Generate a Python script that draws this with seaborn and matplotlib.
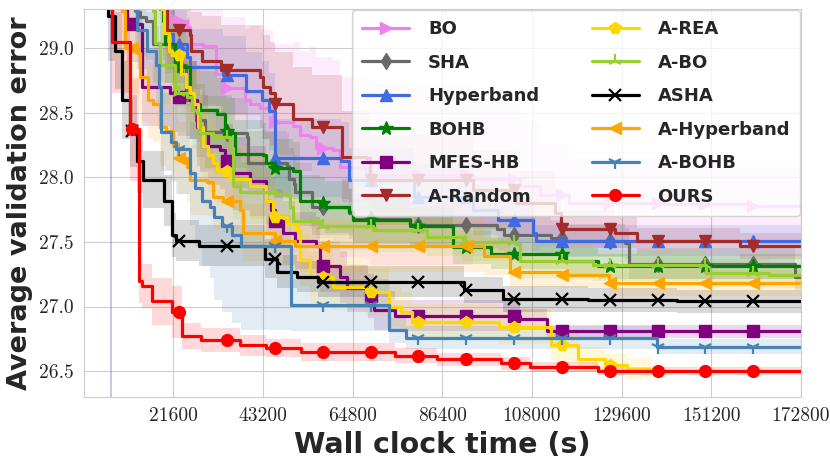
import numpy as np
import matplotlib
matplotlib.use("Agg")
import matplotlib.pyplot as plt
from matplotlib.lines import Line2D
import seaborn as sns

# --- style ---
sns.set_style("whitegrid")
plt.rcParams["font.family"] = ["DejaVu Sans"]

# --- data: step breakpoints, time in kilo-seconds, mean error and std ---
bo_t = [0, 6.2, 6.8, 19.0, 20.6, 24.8, 25.6, 28.8, 31.8, 33.5, 38.8, 40.0, 42.4, 45.5, 50.5, 52.0,
        54.5, 56.0, 60.0, 61.7, 68.1, 68.9, 93.8, 105.0, 110.0, 117.0, 140.0, 160.0]
bo_v = [30.0, 30.0, 30.0, 29.29, 29.21, 29.16, 29.03, 29.02, 28.80, 28.69, 28.60, 28.57, 28.54, 28.43,
        28.40, 28.33, 28.31, 28.23, 28.21, 28.08, 28.07, 28.02, 27.99, 27.93, 27.86, 27.80, 27.79, 27.78]
bo_s = [0, 4.0, 0, 0.35, 0.35, 0.4, 0.4, 0.45, 0.5, 0.55, 0.55, 0.6, 0.6, 0.6, 0.65, 0.65,
        0.7, 0.7, 0.7, 0.7, 0.7, 0.7, 0.6, 0.5, 0.4, 0.35, 0.3, 0.3]

sha_t = [0, 6.2, 6.8, 12.7, 13.5, 15.1, 16.7, 20.9, 22.0, 24.5, 27.0, 29.3, 34.5, 39.3, 39.5, 49.0,
         49.4, 50.6, 51.0, 55.0, 64.0, 64.8, 78.5, 99.5, 101.2, 112.5, 115.5, 130.5, 131.3, 171.3]
sha_v = [30.0, 30.0, 30.0, 29.28, 29.24, 29.21, 29.03, 29.01, 28.87, 28.60, 28.44, 28.35, 28.34, 28.31,
         28.11, 28.09, 27.99, 27.95, 27.89, 27.77, 27.72, 27.68, 27.63, 27.60, 27.55, 27.53, 27.51,
         27.49, 27.33, 27.23]
sha_s = [0, 4.0, 0, 0.3, 0.3, 0.3, 0.3, 0.3, 0.3, 0.3, 0.28, 0.28, 0.27, 0.27, 0.25, 0.25,
         0.24, 0.23, 0.22, 0.22, 0.2, 0.2, 0.18, 0.16, 0.15, 0.14, 0.13, 0.12, 0.12, 0.1]

hb_t = [0, 6.2, 6.8, 19.6, 21.5, 24.8, 25.5, 33.5, 39.0, 43.0, 44.5, 46.0, 62.0, 63.8, 79.5,
        93.8, 99.7, 108.2, 109.0]
hb_v = [30.0, 30.0, 30.0, 29.11, 29.03, 28.93, 28.85, 28.79, 28.67, 28.60, 28.51, 28.15, 28.13,
        27.98, 27.85, 27.75, 27.67, 27.57, 27.51]
hb_s = [0, 4.0, 0, 0.3, 0.3, 0.3, 0.3, 0.3, 0.3, 0.3, 0.3, 0.3, 0.3, 0.25, 0.25,
        0.2, 0.18, 0.15, 0.12]

bohb_t = [0, 18.3, 19.1, 19.5, 22.0, 25.5, 27.2, 28.0, 32.0, 34.0, 35.8, 36.4, 43.2, 44.0, 45.8,
          50.5, 52.0, 56.9, 58.0, 64.0, 64.8, 78.5, 89.0, 98.0, 116.3, 124.0]
bohb_v = [30.0, 29.3, 29.21, 29.03, 28.85, 28.60, 28.57, 28.52, 28.49, 28.36, 28.34, 28.18, 28.17,
          28.11, 28.07, 28.05, 27.82, 27.80, 27.77, 27.73, 27.67, 27.62, 27.46, 27.41, 27.35, 27.31]
bohb_s = [0, 0.3, 0.3, 0.3, 0.3, 0.3, 0.3, 0.3, 0.28, 0.28, 0.27, 0.26, 0.25, 0.24, 0.23,
          0.22, 0.2, 0.2, 0.2, 0.18, 0.17, 0.15, 0.13, 0.12, 0.1, 0.1]

mfes_t = [0, 10.4, 14.0, 20.8, 22.6, 25.7, 27.2, 28.0, 30.0, 32.8, 34.0, 36.0, 40.0, 44.0, 45.0,
          46.0, 48.0, 51.0, 56.0, 57.0, 61.7, 63.5, 68.5, 70.0, 75.0, 105.0, 111.5]
mfes_v = [30.0, 29.19, 28.70, 28.65, 28.62, 28.60, 28.39, 28.34, 28.24, 28.21, 28.13, 28.03, 27.97,
          27.82, 27.75, 27.66, 27.57, 27.51, 27.47, 27.31, 27.23, 27.14, 27.08, 26.97, 26.93, 26.90, 26.81]
mfes_s = [0, 0.3, 0.3, 0.3, 0.3, 0.3, 0.3, 0.3, 0.3, 0.3, 0.28, 0.28, 0.27, 0.25, 0.25,
          0.25, 0.25, 0.22, 0.22, 0.2, 0.2, 0.18, 0.17, 0.15, 0.12, 0.08, 0.05]

arand_t = [0, 19.8, 20.0, 25.5, 25.9, 28.5, 33.0, 42.5, 43.2, 44.8, 46.0, 50.5, 55.0, 62.1, 68.1,
           68.9, 93.8, 104.2, 113.5, 115.0, 128.0, 133.2, 158.0]
arand_v = [30.0, 29.3, 29.14, 29.10, 28.98, 28.90, 28.83, 28.78, 28.70, 28.65, 28.57, 28.45, 28.39,
           28.16, 28.15, 27.98, 27.90, 27.80, 27.72, 27.60, 27.57, 27.51, 27.47]
arand_s = [0, 0.3, 0.3, 0.3, 0.3, 0.35, 0.35, 0.4, 0.4, 0.4, 0.4, 0.4, 0.4, 0.35, 0.35,
           0.35, 0.3, 0.25, 0.2, 0.15, 0.12, 0.1, 0.1]

area_t = [0, 18.5, 19.3, 20.5, 21.3, 23.5, 24.5, 25.7, 26.5, 27.5, 28.7, 30.0, 31.2, 32.0, 35.5,
          40.0, 44.0, 45.5, 49.0, 51.3, 52.0, 54.5, 60.0, 68.0, 73.5, 76.5, 79.0, 100.0, 112.5,
          119.0, 125.5, 131.0]
area_v = [30.0, 29.3, 29.12, 28.98, 28.95, 28.80, 28.70, 28.65, 28.57, 28.39, 28.24, 28.17, 28.11,
          28.05, 27.99, 27.93, 27.82, 27.69, 27.64, 27.59, 27.36, 27.23, 27.15, 27.11, 27.0, 26.96,
          26.88, 26.84, 26.70, 26.59, 26.55, 26.52]
area_s = [0, 0.3, 0.3, 0.3, 0.3, 0.3, 0.3, 0.3, 0.3, 0.3, 0.28, 0.28, 0.28, 0.27, 0.25,
          0.25, 0.25, 0.22, 0.22, 0.22, 0.2, 0.2, 0.18, 0.18, 0.16, 0.15, 0.14, 0.13, 0.12,
          0.1, 0.08, 0.08]
area_end = 137.0

abo_t = [0, 16.7, 17.1, 18.3, 22.0, 24.8, 26.0, 27.2, 28.0, 31.2, 35.2, 36.0, 37.6, 46.4, 49.7,
         50.4, 56.9, 69.6, 82.6, 91.4, 104.2, 105.0, 122.7, 150.0, 165.0]
abo_v = [30.0, 29.29, 29.04, 28.87, 28.65, 28.62, 28.52, 28.50, 28.34, 28.31, 28.23, 27.93, 27.89,
         27.87, 27.77, 27.66, 27.62, 27.59, 27.54, 27.50, 27.48, 27.35, 27.32, 27.26, 27.24]
abo_s = [0, 0.3, 0.3, 0.3, 0.3, 0.3, 0.3, 0.3, 0.28, 0.28, 0.27, 0.25, 0.25, 0.22, 0.2,
         0.2, 0.18, 0.17, 0.15, 0.15, 0.14, 0.13, 0.12, 0.11, 0.1]

asha_t = [0, 5.8, 7.5, 9.2, 11.2, 12.8, 14.3, 19.3, 21.3, 22.3, 27.8, 43.6, 46.5, 51.3, 56.4, 91.5,
          101.0, 121.6, 143.0]
asha_v = [30.0, 29.25, 28.98, 28.60, 28.36, 28.13, 27.98, 27.82, 27.55, 27.51, 27.47, 27.37, 27.27,
          27.23, 27.19, 27.13, 27.06, 27.05, 27.04]
asha_s = [0, 0.35, 0.3, 0.3, 0.28, 0.25, 0.22, 0.2, 0.17, 0.16, 0.16, 0.15, 0.13, 0.12, 0.12, 0.1,
          0.1, 0.09, 0.09]

ahb_t = [0, 9.1, 9.9, 13.1, 13.5, 15.5, 16.7, 18.3, 19.9, 21.5, 22.8, 24.8, 25.6, 29.6, 31.2,
         33.6, 37.6, 38.4, 46.0, 51.0, 96.4, 102.8, 115.0, 126.6]
ahb_v = [30.0, 29.29, 29.0, 28.96, 28.78, 28.60, 28.57, 28.39, 28.36, 28.26, 28.15, 28.08, 27.98,
         27.96, 27.85, 27.82, 27.75, 27.57, 27.51, 27.47, 27.39, 27.27, 27.24, 27.18]
ahb_s = [0, 0.35, 0.35, 0.35, 0.35, 0.3, 0.3, 0.3, 0.3, 0.3, 0.28, 0.28, 0.27, 0.26, 0.25,
         0.24, 0.23, 0.22, 0.2, 0.2, 0.15, 0.12, 0.1, 0.1]

abohb_t = [0, 12.4, 12.8, 15.3, 17.3, 18.1, 18.5, 21.1, 22.2, 25.7, 26.9, 28.5, 30.5, 31.3, 33.3,
           35.7, 37.8, 50.0, 73.5, 77.7, 138.0]
abohb_v = [30.0, 29.29, 29.14, 28.98, 28.87, 28.70, 28.35, 28.27, 28.22, 28.03, 27.92, 27.82, 27.77,
           27.69, 27.62, 27.55, 27.47, 27.01, 26.82, 26.76, 26.69]
abohb_s = [0, 0.3, 0.3, 0.3, 0.3, 0.3, 0.3, 0.3, 0.35, 0.4, 0.45, 0.51, 0.55, 0.64, 0.66,
           0.68, 0.65, 0.2, 0.1, 0.09, 0.06]

ours_t = [0, 6.8, 11.2, 13.3, 14.0, 16.5, 21.3, 23.7, 28.2, 37.6, 44.0, 52.3, 75.0, 85.0, 100.5,
          107.5, 124.0]
ours_v = [30.0, 29.05, 28.37, 27.20, 27.16, 27.04, 26.96, 26.77, 26.74, 26.70, 26.68, 26.65, 26.62,
          26.59, 26.56, 26.53, 26.50]
ours_s = [0, 0.4, 0.4, 0.17, 0.17, 0.18, 0.2, 0.1, 0.09, 0.08, 0.07, 0.07, 0.06, 0.05, 0.05,
          0.04, 0.03]

t_end = 172.8
xticks = [21600, 43200, 64800, 86400, 108000, 129600, 151200, 172800]
yticks = [26.5, 27.0, 27.5, 28.0, 28.5, 29.0]

# label, data, colour, marker, end of run
series = [
    ("BO", bo_t, bo_v, bo_s, "violet", ">", t_end),
    ("SHA", sha_t, sha_v, sha_s, "dimgray", "d", t_end),
    ("Hyperband", hb_t, hb_v, hb_s, "royalblue", "^", t_end),
    ("BOHB", bohb_t, bohb_v, bohb_s, "green", "*", t_end),
    ("MFES-HB", mfes_t, mfes_v, mfes_s, "purple", "s", t_end),
    ("A-Random", arand_t, arand_v, arand_s, "brown", "v", t_end),
    ("A-REA", area_t, area_v, area_s, "gold", "p", area_end),
    ("A-BO", abo_t, abo_v, abo_s, "yellowgreen", "2", t_end),
    ("ASHA", asha_t, asha_v, asha_s, "black", "x", t_end),
    ("A-Hyperband", ahb_t, ahb_v, ahb_s, "orange", "<", t_end),
    ("A-BOHB", abohb_t, abohb_v, abohb_s, "steelblue", "1", t_end),
    ("OURS", ours_t, ours_v, ours_s, "red", "o", t_end),
]

fig, ax = plt.subplots(figsize=(8.3, 4.67), dpi=100)
fig.subplots_adjust(left=0.101, right=0.965, top=0.980, bottom=0.150)

curves = []
for label, t, v, s, color, marker, end in series:
    t = np.append(np.array(t) * 1000, end * 1000)
    v = np.append(v, v[-1])
    s = np.append(s, s[-1])
    curves.append((t, v, s))
    ax.fill_between(t, v - s, v + s, step="post", color=color, alpha=0.15, lw=0)

mark_t = np.arange(11520, t_end * 1000, 11520)
handles = []
for (label, _, _, _, color, marker, end), (t, v, s) in zip(series, curves):
    sns.lineplot(x=t, y=v, drawstyle="steps-post", color=color, lw=2.3,
                 estimator=None, sort=False, ax=ax)
    mt = mark_t[mark_t <= t[-1]]
    mv = v[np.searchsorted(t, mt, side="right") - 1]
    mew = 1.6 if marker in ("1", "2", "x") else 1.0
    ms = 10 if marker in ("*", "1", "2") else 8.5
    ax.plot(mt, mv, ls="none", marker=marker, ms=ms, mew=mew, color=color)
    handles.append(Line2D([], [], color=color, lw=2.3, marker=marker, ms=ms, mew=mew, label=label))

ax.set_xlim(0, 172800)
ax.set_ylim(26.3, 29.3)
ax.set_xticks(xticks)
ax.set_xticklabels([str(x) for x in xticks], fontfamily="cmr10", fontsize=14)
ax.set_yticks(yticks)
ax.set_yticklabels(["%.1f" % y for y in yticks], fontfamily="cmr10", fontsize=14)
ax.tick_params(axis="both", pad=4)

ax.set_xlabel("Wall clock time (s)", fontsize=20.5, fontweight="bold", labelpad=4)
ax.set_ylabel("Average validation error", fontsize=19.5, fontweight="bold", labelpad=4)

ax.legend(handles=handles, ncol=2, loc="upper right", prop={"weight": "bold", "size": 13},
          framealpha=0.8, handlelength=2.6, handletextpad=1.05, borderaxespad=0.05,
          labelspacing=0.86, columnspacing=2.9, borderpad=0.55)

fig.savefig("out.png", dpi=100)
